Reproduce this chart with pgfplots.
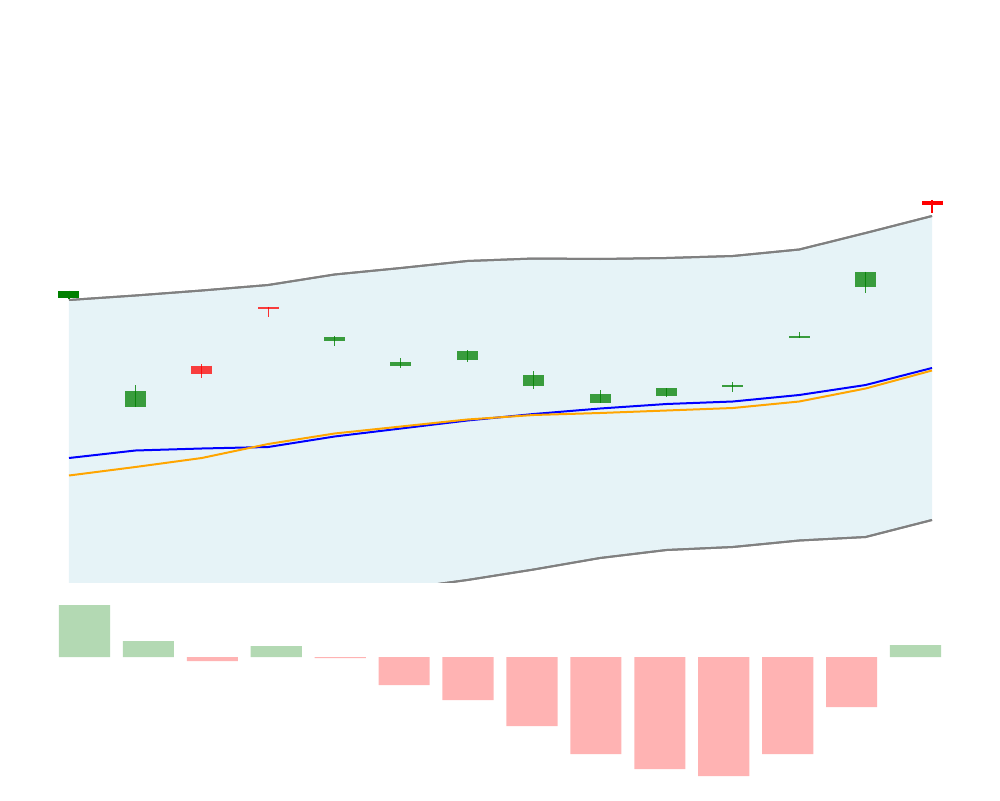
\documentclass[border=0pt]{standalone}
\usepackage{pgfplots}
\usepackage{pgfplotstable}
\pgfplotsset{compat=1.18}
\usepgfplotslibrary{fillbetween}
\definecolor{cgreen}{RGB}{0,128,0}
\definecolor{cred}{RGB}{255,0,0}
\definecolor{lblue}{RGB}{173,216,230}
\definecolor{cgray}{RGB}{128,128,128}
\definecolor{corange}{RGB}{255,165,0}
\definecolor{cblue}{RGB}{0,0,255}
\definecolor{vgreen}{RGB}{179,217,179}
\definecolor{vred}{RGB}{255,179,179}

% bands and averages
\pgfplotstableread{
x upper mid lower avg
0 500.0 342.0 184.0 324.5
1 504.5 349.5 194.5 333.0
2 509.5 351.5 193.5 342.0
3 515.0 353.0 191.0 356.0
4 525.5 363.5 201.5 366.5
5 532.0 371.5 211.0 373.5
6 539.0 379.5 220.0 380.5
7 541.5 386.0 230.5 385.0
8 541.0 391.5 242.0 387.0
9 542.0 396.0 250.0 389.5
10 544.0 398.5 253.0 392.0
11 550.5 405.0 259.5 398.5
12 567.0 415.0 263.0 411.5
13 584.0 432.0 280.0 429.5
}\bands

\begin{document}
\begin{tikzpicture}
\path (0,0) rectangle (20cm,16cm);
\begin{axis}[
  at={(0.716cm,4.36cm)}, anchor=south west,
  scale only axis, width=18.588cm, height=11.64cm,
  xmin=-0.5, xmax=13.5, ymin=218, ymax=800,
  hide axis, unbounded coords=jump,
]
\addplot[name path=up, cgray, line width=0.04cm] table[x=x,y=upper]{\bands};
\addplot[name path=lo, cgray, line width=0.04cm] table[x=x,y=lower]{\bands};
\addplot[lblue, fill opacity=0.3, draw opacity=0.3] fill between[of=up and lo];
\addplot[cgray, line width=0.04cm] table[x=x,y=upper]{\bands};
\addplot[cgray, line width=0.04cm] table[x=x,y=lower]{\bands};
\addplot[cblue, line width=0.04cm] table[x=x,y=mid]{\bands};
\addplot[corange, line width=0.04cm] table[x=x,y=avg]{\bands};
% candle bodies (open -> close)
\addplot[cgreen, draw opacity=0.75, line width=0.42cm, line cap=butt] coordinates {
 (1,393.3) (1,409.3) (nan,nan)
 (4,459.0) (4,463.0) (nan,nan)
 (5,434.0) (5,438.3) (nan,nan)
 (6,440.0) (6,449.3) (nan,nan)
 (7,414.0) (7,425.3) (nan,nan)
 (8,397.0) (8,406.3) (nan,nan)
 (9,404.0) (9,412.0) (nan,nan)
 (10,413.0) (10,415.0) (nan,nan)
 (11,462.0) (11,464.3) (nan,nan)
 (12,513.0) (12,528.3)
};
\addplot[cred, draw opacity=0.75, line width=0.42cm, line cap=butt] coordinates {
 (2,434.3) (2,426.3) (nan,nan)
 (3,493.3) (3,491.0)
};
\addplot[cgreen, line width=0.42cm, line cap=butt] coordinates {(0,502.3) (0,509.3)};
\addplot[cred, line width=0.42cm, line cap=butt] coordinates {(13,599.3) (13,595.0)};
% wicks (high -> low)
\addplot[cgreen, draw opacity=0.8, line width=0.022cm] coordinates {
 (1,415.0) (1,393.0) (nan,nan)
 (4,464.0) (4,454.3) (nan,nan)
 (5,442.0) (5,432.3) (nan,nan)
 (6,450.0) (6,438.0) (nan,nan)
 (7,429.0) (7,411.0) (nan,nan)
 (8,410.0) (8,397.0) (nan,nan)
 (9,412.0) (9,403.0) (nan,nan)
 (10,418.0) (10,408.0) (nan,nan)
 (11,468.0) (11,462.0) (nan,nan)
 (12,528.3) (12,507.0)
};
\addplot[cred, draw opacity=0.8, line width=0.022cm] coordinates {
 (2,436.0) (2,422.3) (nan,nan)
 (3,493.5) (3,482.7)
};
\addplot[cgreen, line width=0.022cm] coordinates {(0,509.5) (0,501.0)};
\addplot[cred, line width=0.022cm] coordinates {(13,600.0) (13,587.3)};
\end{axis}

\begin{axis}[
  at={(1.05cm,0.2cm)}, anchor=south west,
  scale only axis, width=17.9cm, height=4cm,
  xmin=-0.5, xmax=13.5, ymin=-133, ymax=67,
  hide axis,
]
\addplot[ybar, bar width=0.8, bar shift=0pt, fill=vgreen, draw=none] coordinates {(0,52) (1,16) (3,11) (13,12)};
\addplot[ybar, bar width=0.8, bar shift=0pt, fill=vred, draw=none] coordinates {(2,-4) (4,-1) (5,-28) (6,-43) (7,-69) (8,-97) (9,-112) (10,-119) (11,-97) (12,-50)};
\end{axis}
\end{tikzpicture}
\end{document}
